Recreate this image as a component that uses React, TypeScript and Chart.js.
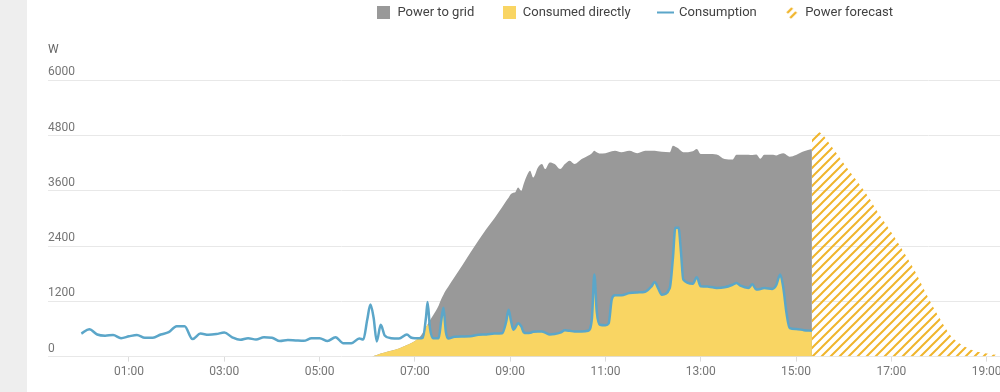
import React, { useEffect, useRef } from "react";
import { Chart, registerables } from "chart.js";

Chart.register(...registerables);

// ---- data (time in minutes since 00:00, power in W) ----
const minutes = [
  0, 10, 20, 30, 40, 50, 60, 70, 80, 90, 100, 110,
  120, 130, 140, 150, 160, 170, 180, 190, 200, 210, 220, 230,
  240, 250, 260, 270, 280, 290, 300, 310, 320, 330, 340, 350,
  355, 360, 364, 368, 372, 377, 382, 390,
  400, 410, 415, 420, 425, 430, 434, 436, 439, 443,
  450, 453, 456, 459, 462, 470, 480, 490, 500, 510, 520, 530,
  535, 538, 541, 544, 546, 550, 554, 557, 561, 565, 569, 575,
  580, 584, 590, 596, 603, 609, 615, 621, 630, 638, 643, 646, 649, 653,
  660, 664, 668, 672, 680, 690, 700, 710, 718, 722, 726, 731,
  741, 745, 748, 752, 755, 758, 770, 775, 780, 790, 800, 810,
  820, 825, 830, 840, 845, 850, 855, 860, 870, 875, 880, 884,
  888, 892, 900, 910, 920,
];

const consumption = [
  500, 595, 480, 455, 470, 400, 440, 470, 410, 410, 480, 530,
  660, 660, 380, 500, 475, 490, 523, 420, 364, 400, 370, 420,
  410, 338, 360, 350, 342, 400, 400, 340, 420, 291, 291, 395,
  370, 800, 1130, 850, 330, 690, 460, 400,
  393, 480, 415, 400, 400, 410, 850, 1185, 620, 400,
  400, 760, 1060, 540, 393, 430, 436, 440, 475, 480, 500, 509,
  760, 1018, 780, 582, 618, 727, 655, 530, 510, 515, 540, 545,
  545, 520, 480, 490, 520, 570, 560, 545, 545, 560, 836, 1782, 982, 691,
  680, 720, 1250, 1331, 1331, 1380, 1395, 1410, 1527, 1622, 1500, 1346,
  1491, 2150, 2800, 2800, 2290, 1673, 1580, 1724, 1527, 1520, 1491, 1505,
  1560, 1600, 1540, 1491, 1570, 1455, 1470, 1490, 1470, 1550, 1782, 1491,
  945, 618, 600, 574, 560,
];

const production: (number | null)[] = [
  null, null, null, null, null, null, null, null, null, null, null, null,
  null, null, null, null, null, null, null, null, null, null, null, null,
  null, null, null, null, null, null, null, null, null, null, null, null,
  null, 0, 0, 15, 35, 65, 90, 125,
  175, 250, 290, 340, 400, 520, 640, 700, 790, 900,
  1110, 1240, 1346, 1440, 1520, 1730, 1990, 2260, 2520, 2770, 3000, 3250,
  3380, 3450, 3530, 3560, 3563, 3673, 3600, 3750, 3927, 4036, 3890, 4109,
  4182, 4073, 4218, 4182, 4073, 4182, 4255, 4182, 4291, 4364, 4420, 4473, 4437, 4410,
  4420, 4437, 4460, 4473, 4440, 4470, 4420, 4470, 4473, 4470, 4460, 4450,
  4440, 4582, 4560, 4520, 4470, 4437, 4460, 4509, 4400, 4400, 4390, 4291,
  4280, 4386, 4386, 4386, 4380, 4390, 4300, 4386, 4386, 4370, 4400, 4415,
  4380, 4342, 4380, 4460, 4509,
];

const forecastMinutes = [
  920, 930, 945, 960, 975, 990, 1005, 1020, 1035, 1050,
  1065, 1080, 1095, 1110, 1125, 1140, 1155, 1170, 1185,
];
const forecast = [
  4780, 4870, 4560, 4200, 3850, 3500, 3080, 2700, 2290, 1850,
  1330, 860, 450, 240, 120, 65, 30, 10, 0,
];

const yTicks = [0, 1200, 2400, 3600, 4800, 6000];
const xTickHours = [1, 3, 5, 7, 9, 11, 13, 15, 17, 19, 21, 23];
const legendNames = ["Power to grid", "Consumed directly", "Consumption", "Power forecast"];

const GREY = "#999999";
const YELLOW = "#f9d563";
const BLUE = "#5ba6c9";
const HATCH = "#f0b52c";

function hatchTile(size: number) {
  const c = document.createElement("canvas");
  c.width = size;
  c.height = size;
  const g = c.getContext("2d")!;
  g.strokeStyle = HATCH;
  g.lineWidth = 2;
  g.beginPath();
  g.moveTo(0, size);
  g.lineTo(size, 0);
  g.moveTo(-size / 2, size / 2);
  g.lineTo(size / 2, -size / 2);
  g.moveTo(size / 2, size * 1.5);
  g.lineTo(size * 1.5, size / 2);
  g.stroke();
  return c;
}

function boxIcon(color: string) {
  const c = document.createElement("canvas");
  c.width = 13;
  c.height = 13;
  const g = c.getContext("2d")!;
  g.fillStyle = color;
  g.fillRect(0, 0, 13, 13);
  return c;
}

function lineIcon() {
  const c = document.createElement("canvas");
  c.width = 17;
  c.height = 13;
  const g = c.getContext("2d")!;
  g.fillStyle = BLUE;
  g.fillRect(0, 5.5, 17, 2);
  return c;
}

function hatchIcon() {
  const c = document.createElement("canvas");
  c.width = 13;
  c.height = 13;
  const g = c.getContext("2d")!;
  g.strokeStyle = HATCH;
  g.lineWidth = 2.4;
  g.beginPath();
  g.moveTo(2, 7);
  g.lineTo(7, 2);
  g.moveTo(5, 12);
  g.lineTo(11, 6);
  g.stroke();
  return c;
}

export default function App() {
  const ref = useRef<HTMLCanvasElement>(null);

  useEffect(() => {
    if (!ref.current) return;
    Chart.defaults.font.family = "Roboto";

    const tile = hatchTile(9);
    const pattern = tile.getContext("2d")!.createPattern(tile, "repeat")!;

    const pts = (ms: number[], vs: (number | null)[]) =>
      ms.map((m, i) => ({ x: m / 60, y: vs[i] }));
    const direct = consumption.map((c, i) => {
      const p = production[i];
      return p == null ? null : Math.min(c, p);
    });

    const icons = [boxIcon(GREY), boxIcon(YELLOW), lineIcon(), hatchIcon()];
    const legendDatasetIndex = [3, 1, 0, 2];

    const chart = new Chart(ref.current, {
      type: "line",
      data: {
        datasets: [
          {
            label: "Consumption",
            data: pts(minutes, consumption),
            borderColor: BLUE,
            borderWidth: 2.5,
            pointRadius: 0,
            fill: false,
            cubicInterpolationMode: "monotone",
            order: 0,
          },
          {
            label: "Consumed directly",
            data: pts(minutes, direct),
            borderWidth: 0,
            backgroundColor: YELLOW,
            fill: "origin",
            pointRadius: 0,
            cubicInterpolationMode: "monotone",
            order: 1,
          },
          {
            label: "Power forecast",
            data: pts(forecastMinutes, forecast),
            borderWidth: 0,
            backgroundColor: pattern as any,
            fill: "origin",
            pointRadius: 0,
            tension: 0.3,
            order: 2,
          },
          {
            label: "Power to grid",
            data: pts(minutes, production),
            borderWidth: 0,
            backgroundColor: GREY,
            fill: "origin",
            pointRadius: 0,
            cubicInterpolationMode: "monotone",
            order: 3,
          },
        ] as any,
      },
      options: {
        animation: false,
        responsive: true,
        maintainAspectRatio: false,
        layout: { padding: { left: 18, right: 0, top: 0, bottom: 0 } },
        plugins: {
          tooltip: { enabled: false },
          legend: {
            position: "top",
            align: "center",
            onClick: () => {},
            labels: {
              usePointStyle: true,
              pointStyleWidth: 14,
              boxHeight: 13,
              padding: 28,
              color: "#424242",
              font: { family: "Roboto", size: 13 },
              generateLabels: () =>
                legendNames.map((text, i) => ({
                  text,
                  pointStyle: icons[i] as any,
                  fillStyle: "rgba(0,0,0,0)",
                  strokeStyle: "rgba(0,0,0,0)",
                  lineWidth: 0,
                  hidden: false,
                  datasetIndex: legendDatasetIndex[i],
                  fontColor: "#424242",
                })) as any,
            },
          },
          title: {
            display: true,
            text: "W",
            align: "start",
            color: "#666666",
            font: { family: "Roboto", size: 12, weight: "normal" },
            padding: { top: 14, bottom: 23 },
            weight: 500,
          } as any,
        },
        scales: {
          x: {
            type: "linear",
            min: -0.7,
            max: 23.94,
            afterBuildTicks: (s: any) => {
              s.ticks = xTickHours.map((v) => ({ value: v }));
            },
            ticks: {
              autoSkip: false,
              maxRotation: 0,
              color: "#757575",
              padding: 3,
              font: { family: "Roboto", size: 12 },
              callback: (v: any) => `${String(v).padStart(2, "0")}:00`,
            },
            grid: {
              drawOnChartArea: false,
              drawTicks: true,
              tickLength: 5,
              color: "#dcdcdc",
            },
            border: { display: false },
          },
          y: {
            min: 0,
            max: 6000,
            afterBuildTicks: (s: any) => {
              s.ticks = yTicks.map((v) => ({ value: v }));
            },
            ticks: {
              mirror: true,
              padding: 0,
              labelOffset: -8,
              color: "#757575",
              font: { family: "Roboto", size: 12 },
              callback: (v: any) => String(v),
            },
            grid: { color: "#e8e8e8", drawTicks: false },
            border: { display: false },
          },
        },
      },
    });
    return () => chart.destroy();
  }, []);

  return (
    <div style={{ position: "fixed", inset: 0, background: "#ffffff", overflow: "hidden" }}>
      <div
        style={{
          position: "absolute",
          left: 0,
          top: 0,
          bottom: 0,
          width: 27,
          background: "#eeeeee",
        }}
      />
      <div style={{ position: "absolute", left: 30, top: -22, width: 1192, height: 404 }}>
        <canvas ref={ref} />
      </div>
    </div>
  );
}
